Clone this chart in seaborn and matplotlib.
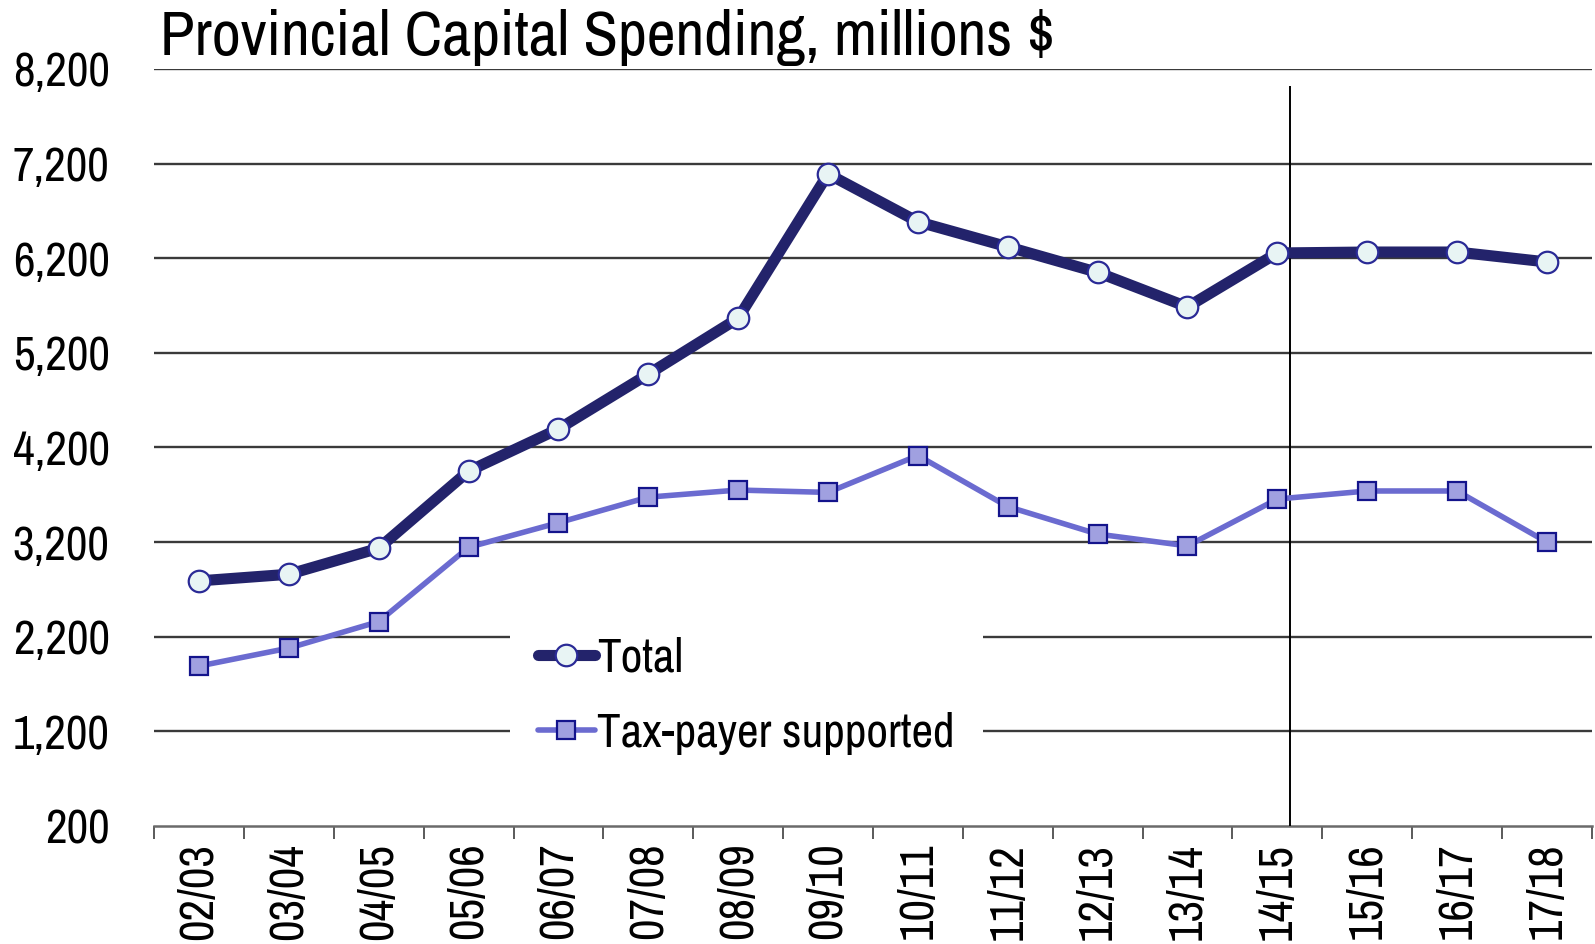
import numpy as np
import pandas as pd
import matplotlib
matplotlib.use("Agg")
import matplotlib.pyplot as plt
from matplotlib import font_manager
from matplotlib.ticker import FixedLocator, FuncFormatter
import seaborn as sns

# Fiscal years and spending (millions $)
years = ["02/03", "03/04", "04/05", "05/06", "06/07", "07/08", "08/09", "09/10",
         "10/11", "11/12", "12/13", "13/14", "14/15", "15/16", "16/17", "17/18"]
total = [2790, 2860, 3135, 3950, 4395, 4975, 5565, 7090,
         6585, 6320, 6050, 5685, 6255, 6265, 6265, 6160]
taxpayer = [1890, 2080, 2360, 3145, 3405, 3675, 3750, 3725,
            4115, 3575, 3285, 3160, 3655, 3740, 3740, 3200]
y_ticks = [200, 1200, 2200, 3200, 4200, 5200, 6200, 7200, 8200]
title = "Provincial Capital Spending, millions $"

sns.set_theme(style="white")

# Pick a narrow sans-serif face
available = {f.name for f in font_manager.fontManager.ttflist}
family = next((n for n in ["Liberation Sans Narrow", "Arial Narrow", "Archivo Narrow",
                           "Roboto Condensed", "Asap Condensed", "Barlow Condensed"]
               if n in available), "Liberation Sans")
plt.rcParams["font.family"] = [family, "DejaVu Sans"]

df = pd.DataFrame({"pos": np.arange(len(years)), "year": years,
                   "Total": total, "Tax-payer supported": taxpayer})

fig = plt.figure(figsize=(15.95, 9.44), dpi=100)
ax = fig.add_axes([0.0966, 0.125, 0.9014, 0.802])

sns.lineplot(data=df, x="pos", y="Total", ax=ax, sort=False,
             color="#23236B", linewidth=8.0, marker="o", markersize=15.5,
             markerfacecolor="#E8F4F4", markeredgecolor="#2A2A96",
             markeredgewidth=1.6, label="Total", zorder=4)
sns.lineplot(data=df, x="pos", y="Tax-payer supported", ax=ax, sort=False,
             color="#6B6BD0", linewidth=4.0, marker="s", markersize=12.5,
             markerfacecolor="#A0A0E0", markeredgecolor="#14148C",
             markeredgewidth=1.6, label="Tax-payer supported", zorder=4)

# Divider between actuals and plan years
divider_x = 12.14
ax.vlines(divider_x, y_ticks[0], 8015, color="black", linewidth=1.4, zorder=3)

ax.set_xlim(-0.5, len(years) - 0.5)
ax.set_ylim(y_ticks[0], y_ticks[-1])

# Horizontal gridlines
for v in y_ticks[1:]:
    ax.axhline(v, color="#3A3A3A", linewidth=1.7, zorder=1)

ax.set_yticks(y_ticks)
ax.yaxis.set_major_formatter(FuncFormatter(lambda v, p: f"{int(v):,}"))
ax.tick_params(axis="y", length=0, pad=32, labelsize=34, labelcolor="black")

ax.set_xticks(df["pos"])
ax.set_xticklabels(years, rotation=90, fontsize=34)
ax.xaxis.set_minor_locator(FixedLocator(np.arange(-0.5, len(years), 1.0)))
ax.tick_params(axis="x", which="major", length=0, pad=12, labelcolor="black")
ax.tick_params(axis="x", which="minor", length=9, width=1.4, color="#5A5A5A",
               direction="out", bottom=True)

for side in ["top", "right", "left"]:
    ax.spines[side].set_visible(False)
ax.spines["bottom"].set_color("#6A6A6A")
ax.spines["bottom"].set_linewidth(1.8)
ax.set_xlabel("")
ax.set_ylabel("")

leg = ax.legend(loc="center", bbox_to_anchor=(0.412, 0.172), fontsize=34,
                frameon=True, facecolor="white", edgecolor="none", framealpha=1,
                handlelength=1.2, handletextpad=0.05, labelspacing=0.68,
                borderpad=0.6, fancybox=False)
leg.set_zorder(5)
leg.get_frame().set_linewidth(0)
for t in leg.get_texts():
    t.set_color("black")

fig.text(0.1, 0.99, title, fontsize=45.5, ha="left", va="top", color="black")

fig.savefig("out.png", dpi=100, facecolor="white")
